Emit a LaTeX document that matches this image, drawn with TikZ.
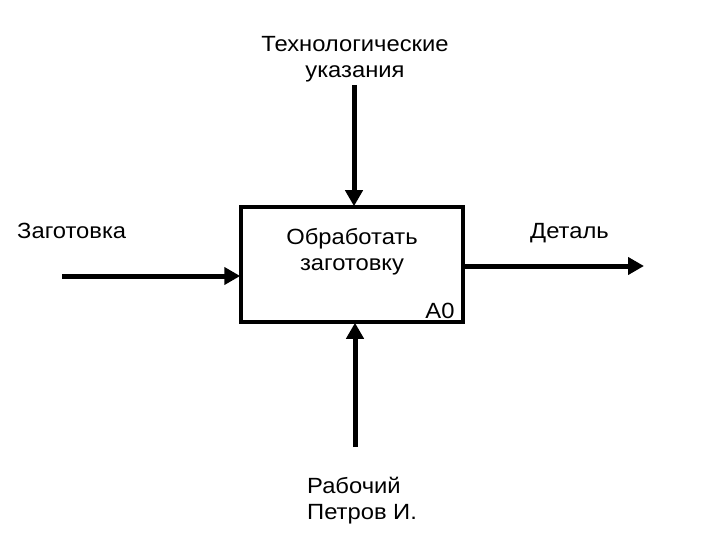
\documentclass[tikz,border=0pt]{standalone}
\usepackage{fontspec}
\setmainfont{Liberation Sans}[FakeStretch=1.08]
\usetikzlibrary{arrows.meta}
\begin{document}
\begin{tikzpicture}[x=1pt,y=-1pt,
  lbl/.style={inner sep=0pt, font=\fontsize{22}{26}\selectfont, align=center},
  arr/.style={line width=5pt, -{Triangle[length=16pt,width=17pt]}, shorten >=-1pt},
  boxst/.style={draw, line width=3.5pt, minimum width=222pt, minimum height=115pt, inner sep=0pt}]
\useasboundingbox (0,0) rectangle (720,540);
\node[boxst] (box) at (352,264.5) {};
\node[lbl] (t1) at (352,252) {Обработать\\заготовку};
\node[lbl, anchor=base] (a0) at (440,318) {A0};
\node[lbl] (ctl) at (355,59) {Технологические\\указания};
\node[lbl, anchor=base west] (inp) at (17,238) {Заготовка};
\node[lbl, anchor=base west] (outp) at (530,238) {Деталь};
\node[lbl, align=left, anchor=west] (mech) at (307,501) {Рабочий\\Петров И.};
\coordinate (cs) at (354,85);
\coordinate (is) at (62,276);
\coordinate (oe) at (643,266);
\coordinate (ms) at (355,447);
\draw[arr] (cs) -- (cs |- box.north);
\draw[arr] (is) -- (is -| box.west);
\draw[arr] (oe -| box.east) -- (oe);
\draw[arr] (ms) -- (ms |- box.south);
\end{tikzpicture}
\end{document}
